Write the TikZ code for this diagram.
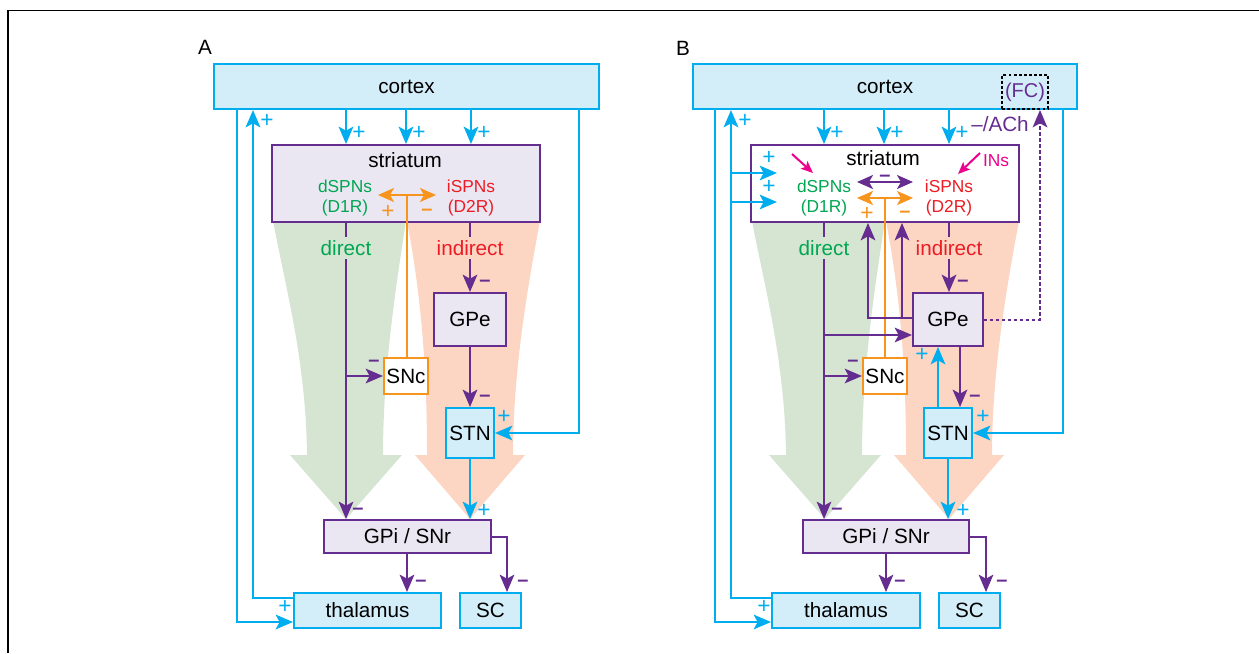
\documentclass[tikz,border=0pt]{standalone}
\usepackage{fontspec}
\setmainfont{Liberation Sans}
\usetikzlibrary{arrows.meta}
\definecolor{cy}{RGB}{0,174,239}
\definecolor{cyfill}{RGB}{212,238,249}
\definecolor{pu}{RGB}{102,45,145}
\definecolor{pufill}{RGB}{234,231,243}
\definecolor{og}{RGB}{247,148,29}
\definecolor{gr}{RGB}{0,166,81}
\definecolor{rd}{RGB}{237,28,36}
\definecolor{mg}{RGB}{236,0,140}
\definecolor{grfun}{RGB}{213,229,210}
\definecolor{ogfun}{RGB}{252,213,195}
\tikzset{
 x=0.75pt, y=-0.75pt,
 boxat/.style n args={4}{minimum width={(#3-#1)*0.75pt}, minimum height={(#4-#2)*0.75pt}, at={({(#1+#3)/2},{(#2+#4)/2})}},
 base/.style={draw, line width=1.5pt, inner sep=0pt, font=\fontsize{15.5}{18}\selectfont},
 cbox/.style={base, draw=cy, fill=cyfill},
 pbox/.style={base, draw=pu, fill=pufill},
 wbox/.style={base, draw=pu, fill=white},
 obox/.style={base, draw=og, fill=white},
 txt/.style={inner sep=0pt, font=\fontsize{15.5}{18}\selectfont},
 sub/.style={inner sep=0pt, font=\fontsize{13}{15}\selectfont},
 pathlbl/.style={inner sep=0pt, outer sep=0pt, minimum height=16.5pt, font=\fontsize{15.5}{18}\selectfont},
 plus/.style={inner sep=0pt, text=cy, font=\fontsize{17}{18}\selectfont},
 mn/.style={inner sep=0pt, text=pu, font=\bfseries\fontsize{15}{18}\selectfont},
 tip/.style={-{Stealth[length=13pt,width=11pt,inset=3pt]}},
 dtip/.style={{Stealth[length=12pt,width=10.5pt,inset=3pt]}-{Stealth[length=12pt,width=10.5pt,inset=3pt]}},
 stip/.style={-{Stealth[length=9pt,width=7.5pt,inset=2pt]}},
 cl/.style={draw=cy, line width=1.5pt},
 pl/.style={draw=pu, line width=1.5pt},
 ol/.style={draw=og, line width=1.5pt},
}
\newcommand{\funnels}{%
 \fill[grfun] (273,221) .. controls (285,285) and (306,360) .. (307,455) -- (290,455) -- (346,519) -- (402,455) -- (383,455) .. controls (383,370) and (396,285) .. (406,221) -- cycle;
 \fill[ogfun] (407,221) .. controls (420,290) and (427,360) .. (427,455) -- (415,455) -- (470,519) -- (525,455) -- (513,455) .. controls (513,370) and (528,285) .. (540,221) -- cycle;}
\begin{document}
\begin{tikzpicture}
\useasboundingbox (0,0) rectangle (1259,653);
\draw[black, line width=1.1pt] (8,653) -- (8,10.5) -- (1259,10.5);
\funnels
\begin{scope}[shift={(479,0)}]
\funnels
\end{scope}

% ================= Panel A =================
\node[txt] (aA) at (205,47) {A};
\node[cbox, boxat={214}{64}{599}{109}] (acx) {cortex};
\node[pbox, boxat={272}{145}{540}{222}] (ast) {};
\node[txt] (astt) at (405,160) {striatum};
\node[sub, text=gr] (ad1) at (345,186) {dSPNs};
\node[sub, text=gr] (ad1r) at (345,208) {(D1R)};
\node[sub, text=rd] (ai2) at (471,186) {iSPNs};
\node[sub, text=rd] (ai2r) at (471,208) {(D2R)};
\node[pbox, boxat={434}{293}{506}{346}] (agpe) {GPe};
\node[obox, boxat={384}{358}{428}{394}] (asnc) {SNc};
\node[cbox, boxat={446}{408}{494}{458}] (astn) {STN};
\node[pbox, boxat={324}{520}{491}{553}] (agpi) {GPi / SNr};
\node[cbox, boxat={294}{593}{441}{628}] (ath) {thalamus};
\node[cbox, boxat={460}{593}{521}{628}] (asc) {SC};
\node[pathlbl, text=gr] (adir) at (346,248) {direct};
\node[pathlbl, text=rd] (aind) at (470,248) {indirect};

% cortex -> striatum
\draw[cl,tip] (acx.south -| 346,0) -- (ast.north -| 346,0);
\draw[cl,tip] (acx.south -| 406,0) -- (ast.north -| 406,0);
\draw[cl,tip] (acx.south -| 471,0) -- (ast.north -| 471,0);
\node[plus] (ap1) at (359,133) {+};
\node[plus] (ap2) at (419,133) {+};
\node[plus] (ap3) at (484,133) {+};
% cortex -> thalamus and back
\draw[cl,tip] (acx.south -| 237,0) -- (237,622) -- (ath.west |- 0,622);
\draw[cl,tip] (ath.west |- 0,598) -- (253,598) -- (acx.south -| 253,0);
\node[plus] (ap4) at (267,121) {+};
\node[plus] (ap5) at (285,607) {+};
% cortex -> STN
\draw[cl,tip] (acx.south -| 579,0) -- (579,433) -- (astn.east |- 0,433);
\node[plus] (ap6) at (504,417) {+};
% dopamine
\draw[ol,dtip] (378,195) -- (436,195);
\draw[ol] (407,195) -- (asnc.north -| 407,0);
\node[inner sep=0pt, text=og, font=\fontsize{17}{18}\selectfont] (ao1) at (388,212) {+};
\node[mn, text=og] (ao2) at (427,212) {–};
% direct
\draw[pl] (ast.south -| adir) -- (adir.north);
\draw[pl,tip] (adir.south) -- (agpi.north -| adir);
\node[mn] (am1) at (358,511) {–};
\draw[pl,tip] (asnc.west -| 346,0) -- (asnc.west);
\node[mn] (am2) at (374,363) {–};
% indirect
\draw[pl] (ast.south -| aind) -- (aind.north);
\draw[pl,tip] (aind.south) -- (agpe.north);
\node[mn] (am3) at (485,283) {–};
\draw[pl,tip] (agpe.south) -- (astn.north);
\node[mn] (am4) at (485,398) {–};
\draw[cl,tip] (astn.south) -- (agpi.north -| astn);
\node[plus] (ap7) at (484,511) {+};
% output
\draw[pl,tip] (agpi.south -| 407,0) -- (ath.north -| 407,0);
\node[mn] (am5) at (421,583) {–};
\draw[pl,tip] (agpi.east) -- (507,536.5) -- (asc.north -| 507,0);
\node[mn] (am6) at (523,583) {–};

% ================= Panel B =================
\node[txt] (bB) at (683,48) {B};
\node[cbox, boxat={693}{64}{1077}{109}] (bcx) {cortex};
\node[draw=black, line width=1.1pt, dash pattern=on 2.2pt off 1.6pt, inner sep=0pt, boxat={1002}{75}{1048}{109}] (bfc) {};
\node[inner sep=0pt, text=pu, font=\fontsize{15}{17}\selectfont] (bfct) at (1025,92) {(FC)};
\node[wbox, boxat={751}{145}{1019}{222}] (bst) {};
\node[txt] (bstt) at (883,158) {striatum};
\node[sub, text=gr] (bd1) at (824,186) {dSPNs};
\node[sub, text=gr] (bd1r) at (824,208) {(D1R)};
\node[sub, text=rd] (bi2) at (949,186) {iSPNs};
\node[sub, text=rd] (bi2r) at (949,208) {(D2R)};
\node[sub, text=mg] (bins) at (996,161) {INs};
\node[pbox, boxat={913}{293}{983}{346}] (bgpe) {GPe};
\node[obox, boxat={863}{358}{907}{394}] (bsnc) {SNc};
\node[cbox, boxat={924}{408}{972}{458}] (bstn) {STN};
\node[pbox, boxat={803}{520}{969}{553}] (bgpi) {GPi / SNr};
\node[cbox, boxat={772}{593}{920}{628}] (bth) {thalamus};
\node[cbox, boxat={939}{593}{1000}{628}] (bsc) {SC};
\node[pathlbl, text=gr] (bdir) at (824,248) {direct};
\node[pathlbl, text=rd] (bind) at (949,248) {indirect};

% cortex -> striatum
\draw[cl,tip] (bcx.south -| 824,0) -- (bst.north -| 824,0);
\draw[cl,tip] (bcx.south -| 884,0) -- (bst.north -| 884,0);
\draw[cl,tip] (bcx.south -| 949,0) -- (bst.north -| 949,0);
\node[plus] (bp1) at (837,133) {+};
\node[plus] (bp2) at (897,133) {+};
\node[plus] (bp3) at (962,133) {+};
% cortex -> thalamus and back
\draw[cl,tip] (bcx.south -| 715,0) -- (715,622) -- (bth.west |- 0,622);
\draw[cl,tip] (bth.west |- 0,598) -- (731,598) -- (bcx.south -| 731,0);
\node[plus] (bp4) at (745,121) {+};
\node[plus] (bp5) at (764,607) {+};
% thalamus -> striatum
\coordinate (bj1) at (731,173);
\coordinate (bj1e) at (777,173);
\coordinate (bj2) at (731,202);
\coordinate (bj2e) at (777,202);
\draw[cl,tip] (bj1) -- (bj1e);
\draw[cl,tip] (bj2) -- (bj2e);
\node[plus] (bp8) at (769,158) {+};
\node[plus] (bp9) at (769,187) {+};
% interneurons
\coordinate (bm1s) at (792,154);
\coordinate (bm1e) at (813,173);
\coordinate (bm2s) at (980,153);
\coordinate (bm2e) at (958,174);
\draw[draw=mg, line width=1.5pt, stip] (bm1s) -- (bm1e);
\draw[draw=mg, line width=1.5pt, stip] (bm2s) -- (bm2e);
% cortex -> STN
\draw[cl,tip] (bcx.south -| 1063,0) -- (1063,433) -- (bstn.east |- 0,433);
\node[plus] (bp6) at (983,417) {+};
% lateral inhibition and dopamine
\draw[pl,dtip] (857,182) -- (913,182);
\node[mn] (bm0) at (885,178) {–};
\draw[ol,dtip] (857,198) -- (913,198);
\draw[ol] (885,198) -- (bsnc.north);
\node[inner sep=0pt, text=og, font=\fontsize{17}{18}\selectfont] (bo1) at (867,214) {+};
\node[mn, text=og] (bo2) at (905,214) {–};
% direct
\draw[pl] (bst.south -| bdir) -- (bdir.north);
\draw[pl,tip] (bdir.south) -- (bgpi.north -| bdir);
\node[mn] (bmn1) at (837,511) {–};
\draw[pl,tip] (bsnc.west -| 824,0) -- (bsnc.west);
\node[mn] (bmn2) at (853,363) {–};
\draw[pl,tip] (824,335) -- (bgpe.west |- 0,335);
% GPe -> striatum
\coordinate (bk1) at (902,318);
\draw[pl,tip] (bgpe.west |- 0,318) -- (868,318) -- (bst.south -| 868,0);
\draw[pl,tip] (bk1) -- (bst.south -| 902,0);
% indirect
\draw[pl] (bst.south -| bind) -- (bind.north);
\draw[pl,tip] (bind.south) -- (bgpe.north -| bind);
\node[mn] (bmn3) at (963,283) {–};
\draw[pl,tip] (bgpe.south -| 960,0) -- (bstn.north -| 960,0);
\node[mn] (bmn4) at (975,398) {–};
\draw[cl,tip] (bstn.north -| 938,0) -- (bgpe.south -| 938,0);
\node[plus] (bp10) at (922,355) {+};
\draw[cl,tip] (bstn.south -| 948,0) -- (bgpi.north -| 948,0);
\node[plus] (bp7) at (963,511) {+};
% GPe -> FC
\draw[pl, dash pattern=on 2.5pt off 2pt, tip] (bgpe.east) -- (1040,319.5) -- (bcx.south -| 1040,0);
\node[inner sep=0pt, text=pu, font=\fontsize{15.5}{18}\selectfont] (bach) at (1000,124) {–/ACh};
% output
\draw[pl,tip] (bgpi.south -| 886,0) -- (bth.north -| 886,0);
\node[mn] (bmn5) at (900,583) {–};
\draw[pl,tip] (bgpi.east) -- (986,536.5) -- (bsc.north -| 986,0);
\node[mn] (bmn6) at (1002,583) {–};
\end{tikzpicture}
\end{document}
